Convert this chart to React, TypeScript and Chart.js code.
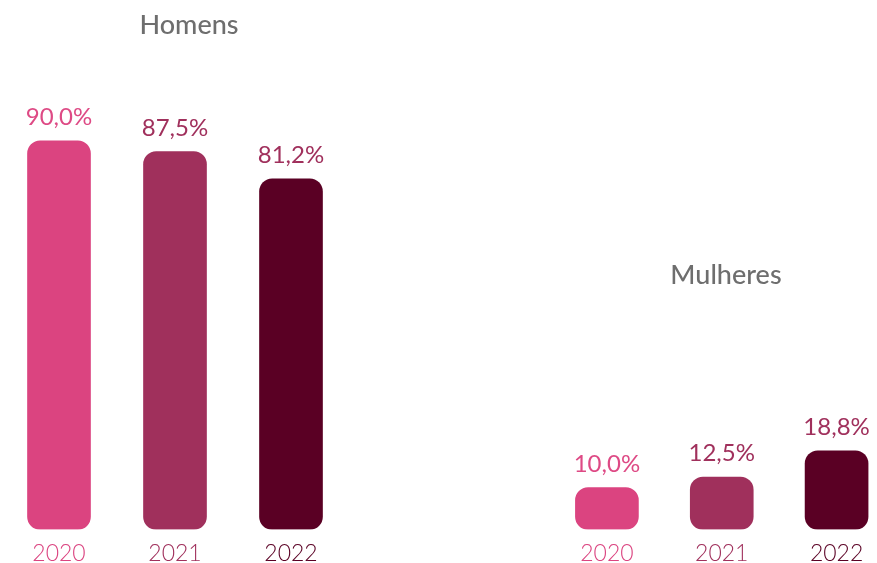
import React, { useEffect, useRef } from "react";
import { Chart, registerables } from "chart.js";

Chart.register(...registerables);

const years = ["2020", "2021", "2022"];
const menValues = [90.0, 87.5, 81.2];
const womenValues = [10.0, 12.5, 18.8];
const groupTitles = ["Homens", "Mulheres"];

const barColors = ["#DB4480", "#A0305C", "#5A0024"];
const valueLabelColors = ["#DE4A85", "#A0305C", "#A0305C"];
const tickColors = ["#DB4480", "#A0305C", "#5A0024"];

const CANVAS_H = 569;

const fmt = (v: number) => v.toFixed(1).replace(".", ",") + "%";

const labelPlugin = {
  id: "valueLabels",
  afterDatasetsDraw(chart: any, _args: any, opts: any) {
    const ctx = chart.ctx;
    const meta = chart.getDatasetMeta(0);
    const data = chart.data.datasets[0].data as number[];
    ctx.save();
    ctx.font = "400 24px Lato";
    ctx.textAlign = "center";
    ctx.textBaseline = "alphabetic";
    meta.data.forEach((bar: any, i: number) => {
      ctx.fillStyle = valueLabelColors[i];
      ctx.fillText(fmt(data[i]), bar.x, bar.y - 16);
    });
    ctx.fillStyle = "#6E6E6E";
    ctx.font = "500 27px Lato";
    ctx.fillText(opts.text, opts.x, opts.y);
    ctx.restore();
  },
};

type GroupProps = {
  values: number[];
  title: string;
  titleX: number;
  titleY: number;
  yMax: number;
  left: number;
  width: number;
  padLeft: number;
};

function BarGroup({ values, title, titleX, titleY, yMax, left, width, padLeft }: GroupProps) {
  const ref = useRef<HTMLCanvasElement>(null);
  useEffect(() => {
    if (!ref.current) return;
    const chart = new Chart(ref.current, {
      type: "bar",
      data: {
        labels: years,
        datasets: [
          {
            data: values,
            backgroundColor: barColors,
            borderRadius: 13,
            borderSkipped: false,
            barThickness: 63,
          },
        ],
      },
      options: {
        responsive: false,
        animation: false,
        layout: { padding: { left: padLeft, right: 0, top: 0, bottom: 0 } },
        plugins: {
          legend: { display: false },
          tooltip: { enabled: false },
          title: { display: false },
          valueLabels: { text: title, x: titleX, y: titleY },
        } as any,
        scales: {
          x: {
            grid: { display: false },
            border: { display: false },
            ticks: {
              color: (c: any) => tickColors[c.index],
              font: { family: "Lato", size: 23, weight: 300 as any },
              padding: 2,
            },
          },
          y: { display: false, min: 0, max: yMax },
        },
      },
      plugins: [labelPlugin as any],
    });
    return () => chart.destroy();
  }, []);
  return (
    <div style={{ position: "absolute", left, top: 0, width, height: CANVAS_H }}>
      <canvas ref={ref} width={width} height={CANVAS_H} style={{ display: "block" }} />
    </div>
  );
}

export default function App() {
  return (
    <div
      style={{
        position: "absolute",
        left: 0,
        top: 0,
        width: 877,
        height: 563,
        overflow: "hidden",
        background: "#ffffff",
      }}
    >
      <BarGroup values={menValues} title={groupTitles[0]} titleX={189} titleY={34} yMax={122.6} left={0} width={349} padLeft={1} />
      <BarGroup values={womenValues} title={groupTitles[1]} titleX={178} titleY={284} yMax={126.6} left={548} width={346} padLeft={1.5} />
    </div>
  );
}
